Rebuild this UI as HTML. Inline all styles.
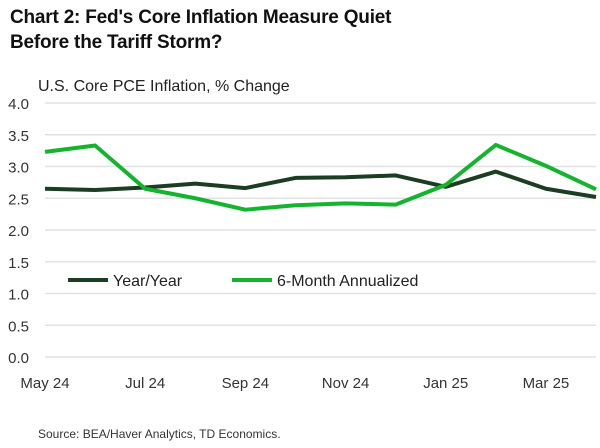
<!DOCTYPE html>
<html><head><meta charset="utf-8"><style>
body{margin:0;background:#fff;font-family:"Liberation Sans",sans-serif;}
#wrap{position:relative;width:600px;height:448px;overflow:hidden;}
.t{position:absolute;left:10px;top:5px;font-size:19px;font-weight:bold;line-height:25px;color:#111;letter-spacing:-0.2px}
</style></head><body>
<div id="wrap">
<div class="t">Chart 2: Fed's Core Inflation Measure Quiet<br>Before the Tariff Storm?</div>
<svg id="c" width="600" height="448" style="position:absolute;left:0;top:0"></svg>
</div>
<script>
const categories=["May 24","Jun 24","Jul 24","Aug 24","Sep 24","Oct 24","Nov 24","Dec 24","Jan 25","Feb 25","Mar 25","Apr 25"];
const yoyValues=[2.65,2.63,2.67,2.73,2.66,2.82,2.83,2.86,2.68,2.92,2.65,2.52];
const sixMonthValues=[3.23,3.33,2.65,2.5,2.32,2.39,2.42,2.4,2.71,3.34,3.01,2.64];
const yTicks=[0,0.5,1,1.5,2,2.5,3,3.5,4];
const xTickLabels=["May 24","Jul 24","Sep 24","Nov 24","Jan 25","Mar 25"];
const svg=document.getElementById('c');const NS='http://www.w3.org/2000/svg';
const x0=45,x1=596,yTop=103,yBot=357;
const xs=i=>x0+(x1-x0)*i/(categories.length-1);
const ys=v=>yBot-(yBot-yTop)*v/4;
function mk(t,a){const e=document.createElementNS(NS,t);for(const k in a)e.setAttribute(k,a[k]);svg.appendChild(e);return e;}
let st=mk('text',{x:38,y:91,'font-size':16,fill:'#222'});st.textContent='U.S. Core PCE Inflation, % Change';


yTicks.forEach(v=>{
 const l=mk('line',{x1:x0,x2:x1,y1:ys(v),y2:ys(v),stroke:'#e2e2e2','stroke-width':1.5});
 
 
 const t=mk('text',{x:29,y:ys(v)+6,'text-anchor':'end','font-size':15,fill:'#333'});t.textContent=v.toFixed(1);
 
 
});
xTickLabels.forEach(lab=>{
 const i=categories.indexOf(lab);
 const t=mk('text',{x:xs(i),y:388,'text-anchor':'middle','font-size':15,fill:'#333'});t.textContent=lab;
 
 
});
function line(vals,col,name){
 const p=mk('polyline',{points:vals.map((v,i)=>xs(i)+','+ys(v)).join(' '),fill:'none',stroke:col,'stroke-width':4,'stroke-linejoin':'round'});
 
 
}
line(yoyValues,'#1b3d22','series-year-over-year');
line(sixMonthValues,'#14b42e','series-6-month-annualized');
function leg(x,col,txt,name){
 const l=mk('line',{x1:x,x2:x+40,y1:280,y2:280,stroke:col,'stroke-width':4});
 
 
 const t=mk('text',{x:x+45,y:286,'font-size':16,fill:'#222'});t.textContent=txt;
 
 
}
leg(68,'#1b3d22','Year/Year','legend-entry-yoy');
leg(232,'#14b42e','6-Month Annualized','legend-entry-6m');
const s=mk('text',{x:38,y:438,'font-size':12,fill:'#333'});s.textContent='Source: BEA/Haver Analytics, TD Economics.';


</script>
</body></html>
